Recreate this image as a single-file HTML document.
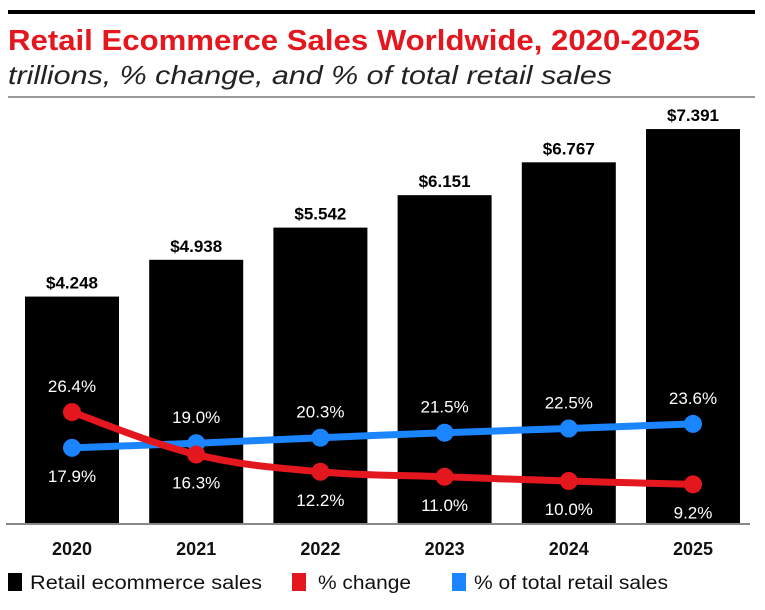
<!DOCTYPE html>
<html><head><meta charset="utf-8"><style>
body{margin:0;background:#fff;}
svg{display:block;font-family:"Liberation Sans",sans-serif;}
</style></head><body>
<svg id="chart" width="765" height="610">
<rect x="8" y="10" width="747" height="4" fill="#000"/>
<text x="8" y="50" font-size="29" font-weight="bold" fill="#e4161e" textLength="692" lengthAdjust="spacingAndGlyphs">Retail Ecommerce Sales Worldwide, 2020-2025</text>
<text x="8" y="84" font-size="26" font-style="italic" fill="#222" textLength="604" lengthAdjust="spacingAndGlyphs">trillions, % change, and % of total retail sales</text>
<rect x="8" y="96" width="747" height="2" fill="#999"/>
<g id="bars"></g>
<rect x="6" y="523" width="744" height="2" fill="#888"/>
<g id="lines"></g>
<g id="labels"></g>
<g>
<rect x="8" y="573" width="14" height="18" fill="#000"/>
<text x="30" y="589" font-size="19" fill="#111" textLength="232" lengthAdjust="spacingAndGlyphs">Retail ecommerce sales</text>
<rect x="292" y="573" width="14" height="18" fill="#e4161e"/>
<text x="318" y="589" font-size="19" fill="#111" textLength="93" lengthAdjust="spacingAndGlyphs">% change</text>
<rect x="452" y="573" width="14" height="18" fill="#1a85ff"/>
<text x="474" y="589" font-size="19" fill="#111" textLength="194" lengthAdjust="spacingAndGlyphs">% of total retail sales</text>
</g>
</svg>
<script>
const years=["2020","2021","2022","2023","2024","2025"];
const sales=[4.248,4.938,5.542,6.151,6.767,7.391];
const salesLabels=["$4.248","$4.938","$5.542","$6.151","$6.767","$7.391"];
const pctChange=[26.4,16.3,12.2,11.0,10.0,9.2];
const pctShare=[17.9,19.0,20.3,21.5,22.5,23.6];
const NS="http://www.w3.org/2000/svg";
const base=523;
function xC(i){return 72+i*124.2;}
function yBar(v){return base-v*53.3;}
function yPct(v){return base-v*4.2;}
function mk(tag,attrs,parent){const e=document.createElementNS(NS,tag);for(const k in attrs)e.setAttribute(k,attrs[k]);parent.appendChild(e);return e;}
const gB=document.getElementById('bars'),gL=document.getElementById('lines'),gT=document.getElementById('labels');
years.forEach((y,i)=>{
  const r=mk('rect',{x:xC(i)-47,y:yBar(sales[i]),width:94,height:base-yBar(sales[i]),fill:'#000'},gB);
  
  
  const t=mk('text',{x:xC(i),y:yBar(sales[i])-8,'text-anchor':'middle','font-size':'17','font-weight':'bold',fill:'#000'},gT);
  t.textContent=salesLabels[i];
  
  
  const yl=mk('text',{x:xC(i),y:555,'text-anchor':'middle','font-size':'18','font-weight':'bold',fill:'#111'},gT);
  yl.textContent=y;
  
  
});
function smooth(pts){
  let d='M'+pts[0][0]+','+pts[0][1];
  for(let i=0;i<pts.length-1;i++){
    const p0=pts[Math.max(0,i-1)],p1=pts[i],p2=pts[i+1],p3=pts[Math.min(pts.length-1,i+2)];
    const t=0.18;
    const c1=[p1[0]+(p2[0]-p0[0])*t,p1[1]+(p2[1]-p0[1])*t];
    const c2=[p2[0]-(p3[0]-p1[0])*t,p2[1]-(p3[1]-p1[1])*t];
    d+=' C'+c1[0]+','+c1[1]+' '+c2[0]+','+c2[1]+' '+p2[0]+','+p2[1];
  }
  return d;
}
function series(vals,color,name,labelAbove){
  const pts=vals.map((v,i)=>[xC(i),yPct(v)]);
  const p=mk('path',{d:smooth(pts),fill:'none',stroke:color,'stroke-width':'7','stroke-linecap':'round'},gL);
  
  
  pts.forEach((pt,i)=>{
    const c=mk('circle',{cx:pt[0],cy:pt[1],r:9,fill:color},gL);
    
    
  });
  pts.forEach((pt,i)=>{
    const above=labelAbove(i);
    const t=mk('text',{x:pt[0],y:above?pt[1]-20:pt[1]+34,'text-anchor':'middle','font-size':'17',fill:'#fff'},gT);
    t.textContent=vals[i].toFixed(1)+'%';
    
    
  });
}
series(pctShare,'#1a85ff','share',i=>i>0);
series(pctChange,'#e4161e','change',i=>i===0);
</script>
</body></html>
